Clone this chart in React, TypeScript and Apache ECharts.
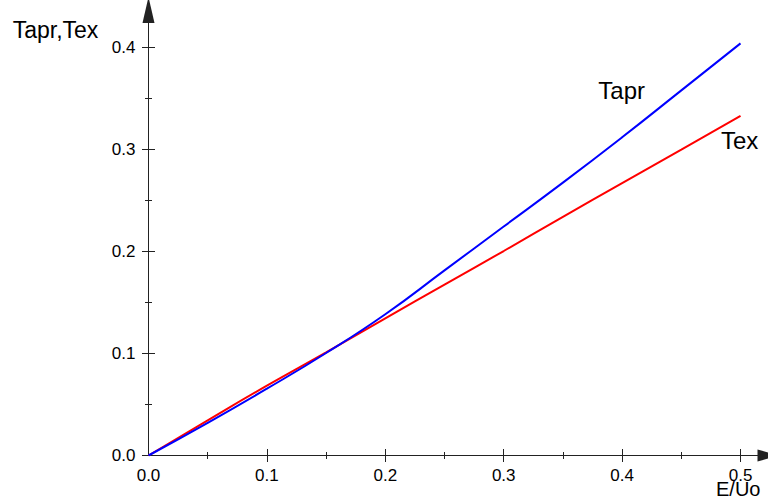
import React, { useEffect, useRef } from "react";
import * as echarts from "echarts";

const xValues = [0, 0.05, 0.1, 0.15, 0.2, 0.25, 0.3, 0.35, 0.4, 0.45, 0.5];
const texValues = [0, 0.0345, 0.0685, 0.1012, 0.1345, 0.1675, 0.2005, 0.234, 0.267, 0.3, 0.333];
const taprValues = [0, 0.032, 0.0655, 0.1005, 0.1385, 0.1815, 0.2245, 0.2675, 0.312, 0.358, 0.4041];
const xMajorTicks = [0.1, 0.2, 0.3, 0.4, 0.5];
const xMinorTicks = [0.05, 0.15, 0.25, 0.35, 0.45];
const xTickLabels = [0, 0.1, 0.2, 0.3, 0.4, 0.5];
const yMajorTicks = [0, 0.1, 0.2, 0.3, 0.4];
const yMinorTicks = [0.05, 0.15, 0.25, 0.35];
const yTickLabels = [0, 0.1, 0.2, 0.3, 0.4];

const X_MAX = 0.5232;
const Y_MAX = 0.4368;
const AXIS_COLOR = "#222";
const FONT = "Liberation Sans, Arial, sans-serif";

export default function App() {
  const ref = useRef<HTMLDivElement>(null);
  useEffect(() => {
    document.body.style.margin = "0";
    if (!ref.current) return;
    const chart = echarts.init(ref.current, undefined, { renderer: "svg" });

    const hidden = { show: false };
    const mkX = (vals: number[], len: number, inside: boolean, main: boolean) => ({
      type: "value",
      min: 0,
      max: X_MAX,
      position: "bottom",
      axisLine: main
        ? { show: true, symbol: ["none", "triangle"], symbolSize: [12, 21], lineStyle: { color: AXIS_COLOR, width: 1 } }
        : hidden,
      axisTick: { show: true, customValues: vals, length: len, inside, lineStyle: { color: AXIS_COLOR, width: 1 } },
      axisLabel: main
        ? {
            show: true,
            customValues: xTickLabels,
            formatter: (v: number) => v.toFixed(1),
            margin: 13,
            lineHeight: 14,
            color: "#000",
            fontSize: 17,
            fontFamily: FONT,
          }
        : hidden,
      splitLine: hidden,
    });
    const mkY = (vals: number[], len: number, inside: boolean, main: boolean) => ({
      type: "value",
      min: 0,
      max: Y_MAX,
      position: "left",
      axisLine: main
        ? { show: true, symbol: ["none", "triangle"], symbolSize: [12, 26], lineStyle: { color: AXIS_COLOR, width: 1 } }
        : hidden,
      axisTick: { show: true, customValues: vals, length: len, inside, lineStyle: { color: AXIS_COLOR, width: 1 } },
      axisLabel: main
        ? {
            show: true,
            customValues: yTickLabels,
            formatter: (v: number) => v.toFixed(1),
            margin: 13,
            color: "#000",
            fontSize: 17,
            fontFamily: FONT,
          }
        : hidden,
      splitLine: hidden,
    });

    const option: any = {
      animation: false,
      backgroundColor: "#fff",
      grid: { left: 148.5, right: 0, top: 10, bottom: 45.5, containLabel: false },
      xAxis: [
        mkX(xMajorTicks, 6.5, false, true),
        mkX(xMajorTicks, 6.5, true, false),
        mkX(xMinorTicks, 3.5, false, false),
        mkX(xMinorTicks, 3.5, true, false),
      ],
      yAxis: [
        mkY(yMajorTicks, 6.5, false, true),
        mkY(yMajorTicks, 6.5, true, false),
        mkY(yMinorTicks, 3.5, false, false),
        mkY(yMinorTicks, 3.5, true, false),
      ],
      series: [
        {
          name: "Tex",
          type: "line",
          xAxisIndex: 0,
          yAxisIndex: 0,
          data: xValues.map((x, i) => [x, texValues[i]]),
          showSymbol: false,
          smooth: true,
          lineStyle: { color: "#ff0000", width: 2 },
          itemStyle: { color: "#ff0000" },
        },
        {
          name: "Tapr",
          type: "line",
          xAxisIndex: 0,
          yAxisIndex: 0,
          data: xValues.map((x, i) => [x, taprValues[i]]),
          showSymbol: false,
          smooth: true,
          lineStyle: { color: "#0000ff", width: 2 },
          itemStyle: { color: "#0000ff" },
        },
      ],
      graphic: [
        {
          type: "text",
          x: 12.7,
          y: 30.3,
          style: { text: "Tapr,Tex", font: `23px ${FONT}`, fill: "#000", textAlign: "left", textVerticalAlign: "middle" },
        },
        {
          type: "text",
          x: 716,
          y: 489,
          style: {
            text: "E/Uo",
            font: `20px ${FONT}`,
            fill: "#000",
            textAlign: "left",
            textVerticalAlign: "middle",
          },
        },
        {
          type: "text",
          x: 598.3,
          y: 90.3,
          style: { text: "Tapr", font: `24px ${FONT}`, fill: "#000", textAlign: "left", textVerticalAlign: "middle" },
        },
        {
          type: "text",
          x: 721,
          y: 140.5,
          style: { text: "Tex", font: `24px ${FONT}`, fill: "#000", textAlign: "left", textVerticalAlign: "middle" },
        },
      ],
    };
    chart.setOption(option);
    return () => chart.dispose();
  }, []);
  return <div ref={ref} style={{ width: 768, height: 501 }} />;
}
